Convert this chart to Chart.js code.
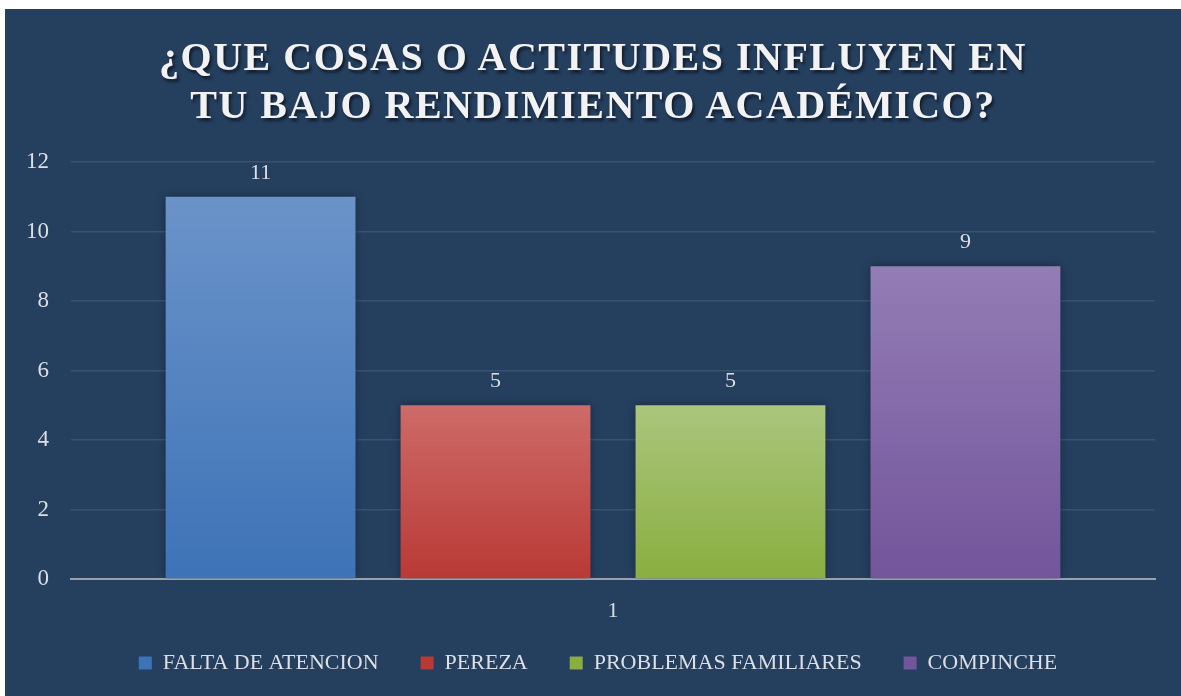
<!DOCTYPE html>
<html>
<head>
<meta charset="utf-8">
<script src="https://cdn.jsdelivr.net/npm/chart.js@4.4.0/dist/chart.umd.min.js"></script>
<style>
  html, body { margin: 0; padding: 0; background: #ffffff; }
  #box {
    position: absolute; left: 5px; top: 9px; width: 1176px; height: 687px;
    background: #253f5f;
  }
  #title {
    position: absolute; left: 0; top: 24px; width: 100%;
    text-align: center; color: #f2f2f2;
    font: bold 40px "Liberation Serif", serif; letter-spacing: 1.5px;
    line-height: 48px;
    text-shadow: 2px 3px 3px rgba(0, 0, 0, 0.55);
  }
  canvas { position: absolute; left: 0; top: 0; }
</style>
</head>
<body>
<div id="box">
  <canvas id="chart" width="1176" height="687"></canvas>
  <div id="title">¿QUE COSAS O ACTITUDES INFLUYEN EN<br>TU BAJO RENDIMIENTO ACADÉMICO?</div>
</div>
<script>
const categories = ['1'];
const seriesNames = ['FALTA DE ATENCION', 'PEREZA', 'PROBLEMAS FAMILIARES', 'COMPINCHE'];
const seriesValues = [[11], [5], [5], [9]];
const topColors = ['#6b93c9', '#cd6b68', '#aac67d', '#937db5'];
const bottomColors = ['#3d73b7', '#b93935', '#8aae40', '#73559b'];

const textColor = '#dcdfe3';
const serif = '"Liberation Serif", serif';

function barGradient(ctx, i) {
    const chart = ctx.chart;
    if (!chart.chartArea) return bottomColors[i];
    const y = chart.scales.y;
    const value = ctx.raw == null ? 0 : ctx.raw;
    const g = chart.ctx.createLinearGradient(0, y.getPixelForValue(value), 0, y.getPixelForValue(0));
    g.addColorStop(0, topColors[i]);
    g.addColorStop(1, bottomColors[i]);
    return g;
}

// value labels above each bar + soft shadow behind bars
const barExtras = {
    id: 'barExtras',
    afterLayout(chart) {
        // let the category label draw below the squeezed x axis box,
        // and nudge the legend to sit centred like the original
        chart.scales.x.bottom += 40;
        chart.legend.left += 18;
        chart.legend.right += 18;
    },
    beforeDatasetsDraw(chart) {
        const c = chart.ctx;
        c.save();
        c.shadowColor = 'rgba(0, 0, 0, 0.4)';
        c.shadowBlur = 9;
    },
    afterDatasetsDraw(chart) {
        const c = chart.ctx;
        c.restore();
        c.save();
        c.fillStyle = textColor;
        c.font = '22px ' + serif;
        c.textAlign = 'center';
        c.textBaseline = 'middle';
        chart.data.datasets.forEach((ds, i) => {
            chart.getDatasetMeta(i).data.forEach((bar, j) => {
                c.fillText(String(ds.data[j]), bar.x, bar.y - 24);
            });
        });
        c.restore();
    }
};

new Chart(document.getElementById('chart'), {
    type: 'bar',
    data: {
        labels: categories,
        datasets: seriesNames.map((name, i) => ({
            label: name,
            data: seriesValues[i],
            backgroundColor: (ctx) => barGradient(ctx, i),
            borderWidth: 0,
            categoryPercentage: 0.867,
            barPercentage: 0.808
        }))
    },
    options: {
        responsive: false,
        animation: false,
        layout: { padding: { left: 0, right: 26, top: 153, bottom: 12 } },
        plugins: {
            title: { display: false },
            tooltip: { enabled: false },
            legend: {
                position: 'bottom',
                labels: {
                    color: textColor,
                    font: { family: serif, size: 22 },
                    boxWidth: 13,
                    boxHeight: 13,
                    padding: 42,
                    generateLabels(chart) {
                        return chart.data.datasets.map((ds, i) => ({
                            text: ds.label,
                            fillStyle: bottomColors[i],
                            strokeStyle: 'transparent',
                            lineWidth: 0,
                            fontColor: textColor,
                            datasetIndex: i
                        }));
                    }
                }
            }
        },
        scales: {
            x: {
                grid: { display: false },
                border: { display: true, color: '#9aa3ad', width: 2 },
                ticks: { color: textColor, font: { family: serif, size: 22 }, padding: 11 },
                afterFit(s) { s.height = 31; }
            },
            y: {
                min: 0,
                max: 12,
                ticks: { stepSize: 2, color: textColor, font: { family: serif, size: 23 }, padding: 22 },
                grid: { color: 'rgba(255, 255, 255, 0.1)', lineWidth: 1.5, drawTicks: false },
                border: { display: false },
                afterFit(s) { s.width = 66; }
            }
        }
    },
    plugins: [barExtras]
});
</script>
</body>
</html>
